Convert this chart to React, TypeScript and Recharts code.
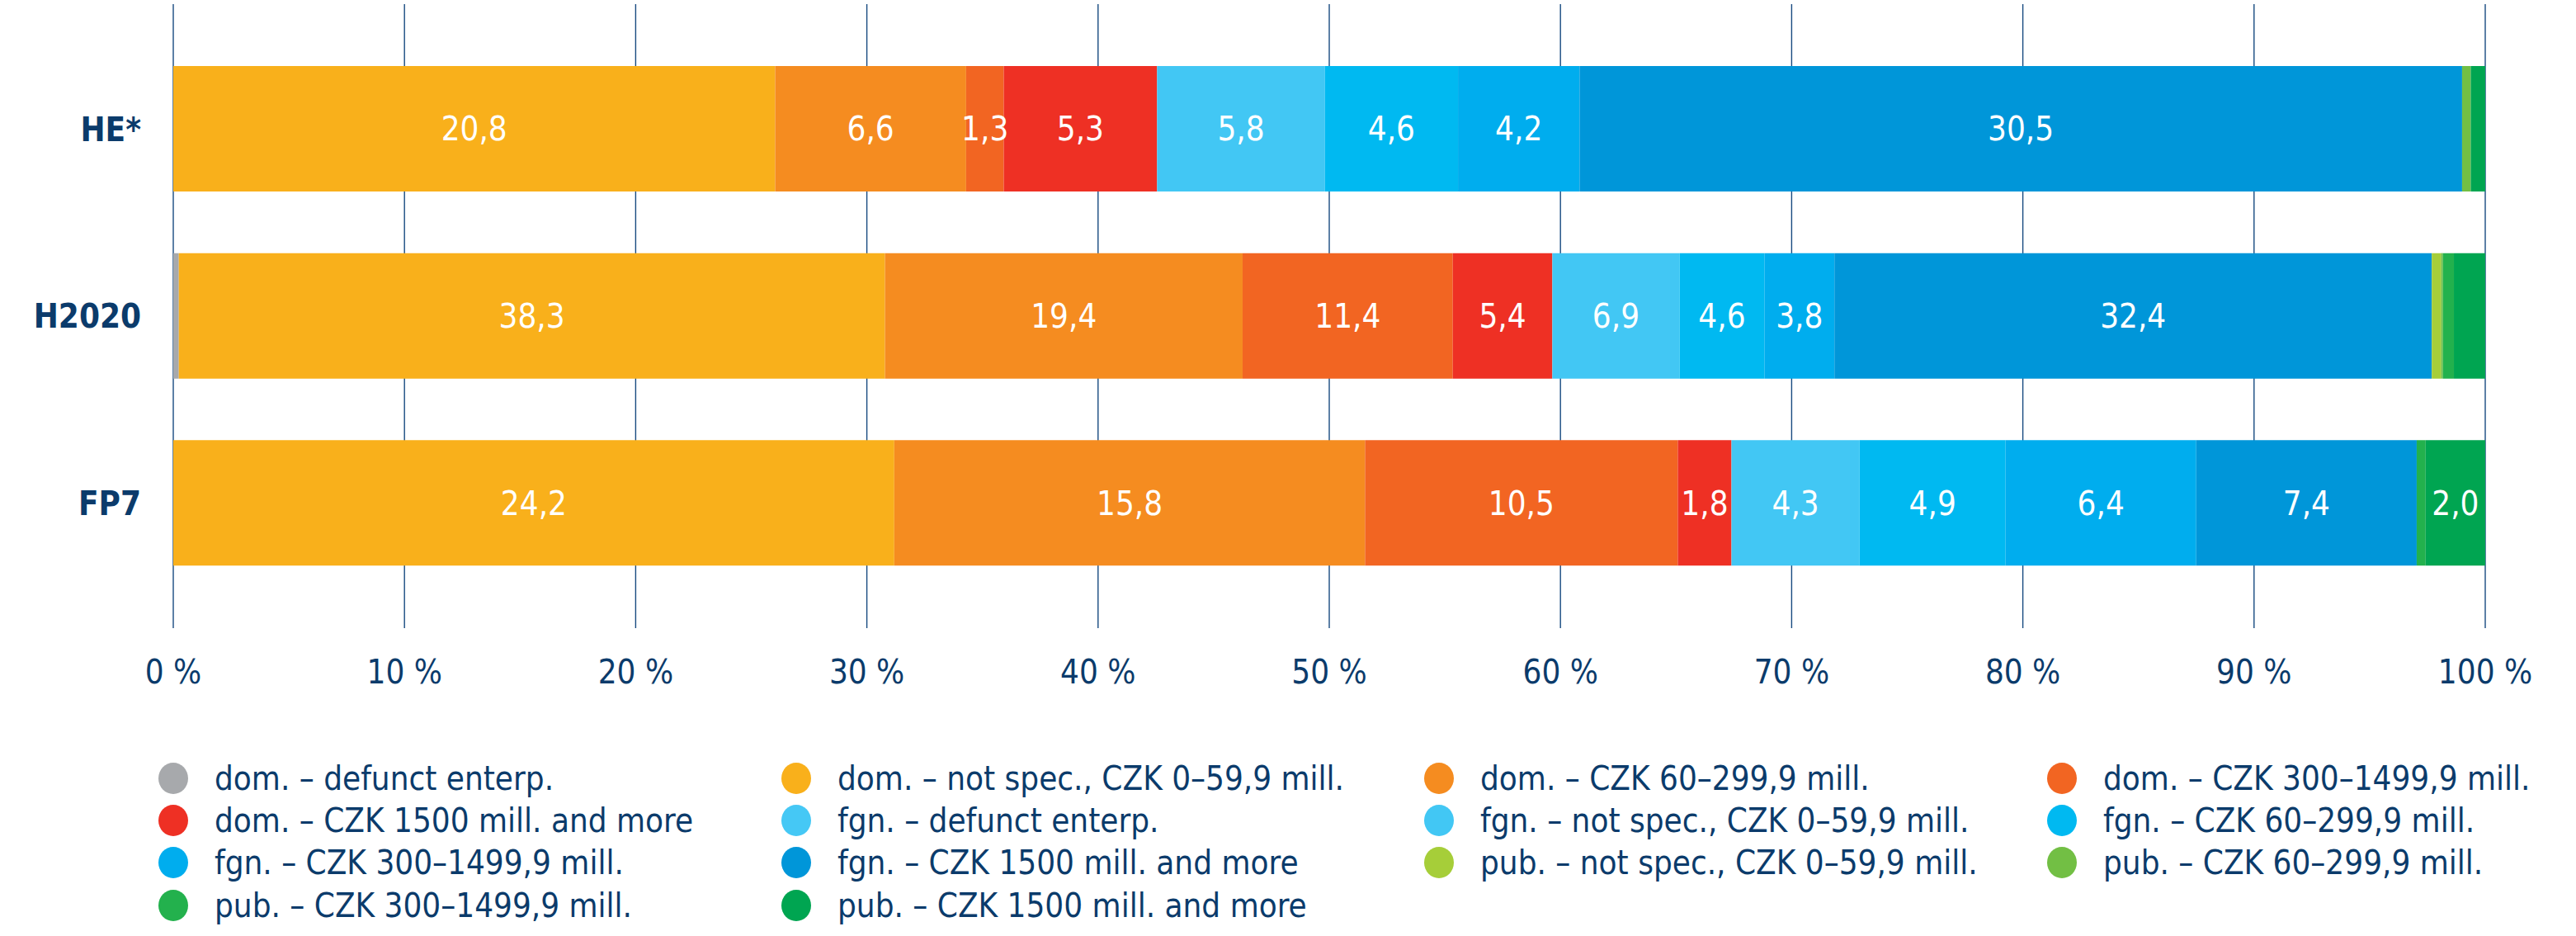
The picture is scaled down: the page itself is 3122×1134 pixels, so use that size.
import React from "react";
import {
  BarChart,
  Bar,
  XAxis,
  YAxis,
  CartesianGrid,
  LabelList,
  Legend,
} from "recharts";

// programmes (rows of the chart)
const categories = ["HE*", "H2020", "FP7"];

// values per programme: [HE*, H2020, FP7]
const domDefunct = [0, 0.3, 0];
const domNotSpec = [20.8, 38.3, 24.2];
const dom60 = [6.6, 19.4, 15.8];
const dom300 = [1.3, 11.4, 10.5];
const dom1500 = [5.3, 5.4, 1.8];
const fgnDefunct = [0, 0, 0];
const fgnNotSpec = [5.8, 6.9, 4.3];
const fgn60 = [4.6, 4.6, 4.9];
const fgn300 = [4.2, 3.8, 6.4];
const fgn1500 = [30.5, 32.4, 7.4];
const pubNotSpec = [0, 0.5, 0];
const pub60 = [0.3, 0.1, 0];
const pub300 = [0, 0.6, 0.3];
const pub1500 = [0.5, 1.7, 2.0];

const xTicks = [0, 0.1, 0.2, 0.3, 0.4, 0.5, 0.6, 0.7, 0.8, 0.9, 1];

const series = [
  { key: "domDefunct", name: "dom. – defunct enterp.", color: "#a7a9ac", values: domDefunct },
  { key: "domNotSpec", name: "dom. – not spec., CZK 0–59,9 mill.", color: "#f9b01b", values: domNotSpec },
  { key: "dom60", name: "dom. – CZK 60–299,9 mill.", color: "#f58c20", values: dom60 },
  { key: "dom300", name: "dom. – CZK 300–1499,9 mill.", color: "#f26522", values: dom300 },
  { key: "dom1500", name: "dom. – CZK 1500 mill. and more", color: "#ee3024", values: dom1500 },
  { key: "fgnDefunct", name: "fgn. – defunct enterp.", color: "#45c8f5", values: fgnDefunct },
  { key: "fgnNotSpec", name: "fgn. – not spec., CZK 0–59,9 mill.", color: "#42c7f4", values: fgnNotSpec },
  { key: "fgn60", name: "fgn. – CZK 60–299,9 mill.", color: "#00b9f1", values: fgn60 },
  { key: "fgn300", name: "fgn. – CZK 300–1499,9 mill.", color: "#00adee", values: fgn300 },
  { key: "fgn1500", name: "fgn. – CZK 1500 mill. and more", color: "#0096d9", values: fgn1500 },
  { key: "pubNotSpec", name: "pub. – not spec., CZK 0–59,9 mill.", color: "#a6ce39", values: pubNotSpec },
  { key: "pub60", name: "pub. – CZK 60–299,9 mill.", color: "#72bf44", values: pub60 },
  { key: "pub300", name: "pub. – CZK 300–1499,9 mill.", color: "#23b14d", values: pub300 },
  { key: "pub1500", name: "pub. – CZK 1500 mill. and more", color: "#00a551", values: pub1500 },
];

const data = categories.map((name, i) => {
  const row: { [key: string]: string | number } = { name };
  series.forEach((s) => {
    row[s.key] = s.values[i];
  });
  return row;
});

const navy = "#0b3b6b";
const font = "'DejaVu Sans Condensed', 'Liberation Sans Narrow', 'Roboto', sans-serif";

const fmt = (v: any) => Number(v).toFixed(1).replace(".", ",");

// value inside a segment, skipped when the segment is too narrow
const ValueLabel = (props: any) => {
  const { x, y, width, height, value } = props;
  const n = Number(value);
  if (!(n >= 1) || Number(width) < 42) return null;
  return (
    <text
      x={Number(x) + Number(width) / 2}
      y={Number(y) + Number(height) / 2}
      dy="0.36em"
      textAnchor="middle"
      fill="#ffffff"
      fontSize={40}
      fontFamily={font}
    >
      {fmt(n)}
    </text>
  );
};

function LegendGrid() {
  return (
    <div
      style={{
        height: 230,
        display: "grid",
        gridTemplateColumns: "755px 779px 755px 755px",
        gridAutoRows: "51.3px",
        paddingLeft: 192,
        boxSizing: "border-box",
        fontFamily: font,
        fontSize: 40,
        color: navy,
      }}
    >
      {series.map((s) => (
        <div key={s.key} style={{ display: "flex", alignItems: "center", whiteSpace: "nowrap" }}>
          <span
            style={{
              width: 36,
              height: 38,
              borderRadius: "50%",
              background: s.color,
              display: "inline-block",
              marginRight: 32,
              flex: "none",
            }}
          />
          <span>{s.name}</span>
        </div>
      ))}
    </div>
  );
}

export default function App() {
  return (
    <div style={{ position: "absolute", left: 0, top: 0, fontFamily: font }}>
      <BarChart
        width={3122}
        height={1134}
        data={data}
        layout="vertical"
        stackOffset="expand"
        margin={{ top: 5, right: 110, left: 0, bottom: 43 }}
      >
        <CartesianGrid vertical horizontal={false} stroke="#174a80" strokeWidth={1.4} />
        <XAxis
          type="number"
          domain={[0, 1]}
          ticks={xTicks}
          tickFormatter={(v) => `${Math.round(v * 100)} %`}
          axisLine={false}
          tickLine={false}
          tickMargin={33}
          height={100}
          tick={{ fill: navy, fontSize: 40, fontFamily: font }}
        />
        <YAxis
          type="category"
          dataKey="name"
          width={210}
          axisLine={false}
          tickLine={false}
          tickMargin={33}
          padding={{ top: 38, bottom: 38 }}
          tick={{ fill: navy, fontSize: 40, fontWeight: 700, fontFamily: font }}
        />
        {series.map((s) => (
          <Bar
            key={s.key}
            dataKey={s.key}
            name={s.name}
            stackId="a"
            fill={s.color}
            barSize={152}
            isAnimationActive={false}
          >
            <LabelList dataKey={s.key} content={ValueLabel} />
          </Bar>
        ))}
        <Legend
          content={() => <LegendGrid />}
          wrapperStyle={{ left: 0, top: 917, bottom: "auto", width: 3122, height: 230 }}
        />
      </BarChart>
    </div>
  );
}
